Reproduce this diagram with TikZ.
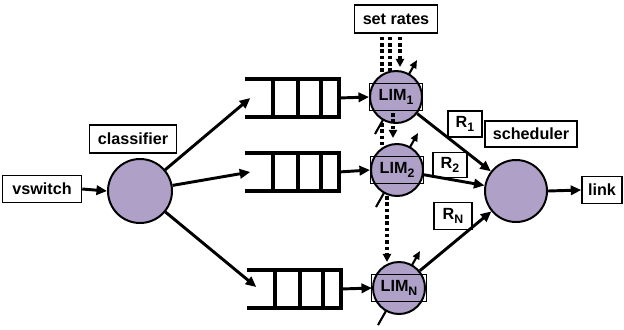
\documentclass[tikz,border=0pt]{standalone}
\usepackage{fontspec}
\setmainfont{Liberation Sans}
\usetikzlibrary{arrows.meta,calc}
\definecolor{lim}{RGB}{174,160,198}
\newcommand{\mysub}[1]{\raisebox{-3.5pt}{\fontsize{10.5}{12}\selectfont #1}}
\begin{document}
\begin{tikzpicture}[x=0.03cm,y=-0.03cm,
  font=\fontsize{13.8}{16}\selectfont\bfseries,
  box/.style={draw,line width=1.3pt,inner sep=0pt,fill=white},
  ball/.style={circle,draw,line width=1.7pt,fill=lim,inner sep=0pt},
  conn/.style={line width=2.5pt,-{Triangle[length=9pt,width=8pt]}},
  qline/.style={line width=3.4pt},
  qbox/.style={inner sep=0pt,minimum width=2.79cm,minimum height=1.14cm},
  dots/.style={line width=3pt,dash pattern=on 3pt off 2.4pt},
  dotarrow/.style={dots,-{Triangle[length=7pt,width=7pt]}},
  knob/.style={line width=1.8pt,-{Triangle[length=7pt,width=6pt]}},
  limrect/.style={draw,line width=1pt,minimum width=1.58cm,minimum height=0.81cm,inner sep=0pt}
]
\useasboundingbox (0,0) rectangle (624,329);

% boxes
\node[box,minimum width=2.37cm,minimum height=0.81cm] (vs) at (42,189) {vswitch};
\node[box,minimum width=2.61cm,minimum height=0.84cm] (cl) at (133,139) {classifier};
\node[box,minimum width=2.49cm,minimum height=0.84cm] (sr) at (396,19) {set rates};
\node[box,minimum width=2.76cm,minimum height=0.78cm] (sch) at (531,134) {scheduler};
\node[box,minimum width=1.2cm,minimum height=0.81cm] (link) at (602,190) {link};

% circles
\node[ball,minimum size=1.92cm] (C) at (140,191) {};
\node[ball,minimum size=1.86cm] (S) at (516,191) {};

% queues
\node[qbox] (q1) at (292,98) {};
\node[qbox] (q2) at (292,172) {};
\node[qbox] (q3) at (294,289) {};
\foreach \q in {q1,q2,q3}{
  \draw[qline] (\q.north west) -- (\q.north east) -- (\q.south east) -- (\q.south west);
  \foreach \f in {0.30,0.56,0.81}
    \draw[qline] ($(\q.north west)!\f!(\q.north east)$) -- ($(\q.south west)!\f!(\q.south east)$);
}

% knob lines behind the limiters
\coordinate (L1c) at (396,97);
\coordinate (L2c) at (397,170);
\coordinate (LNc) at (399,288);
\foreach \c in {L1c,L2c,LNc}
  \draw[knob] ($(\c)+(-21,37)$) -- ($(\c)+(21,-37)$);

% limiters
\node[ball,minimum size=1.56cm] (L1) at (L1c) {};
\node[ball,minimum size=1.56cm] (L2) at (L2c) {};
\node[ball,minimum size=1.56cm] (LN) at (LNc) {};
\node[limrect] (L1r) at (L1c) {LIM\mysub{1}};
\node[limrect] (L2r) at (L2c) {LIM\mysub{2}};
\node[limrect,minimum width=1.65cm] (LNr) at (LNc) {LIM\mysub{N}};

% rate labels
\node[box,fill=none,minimum width=1.02cm,minimum height=0.78cm] (R1) at (465,124) {R\mysub{1}};
\node[box,fill=none,minimum width=1.02cm,minimum height=0.75cm] (R2) at (450,165) {R\mysub{2}};
\node[box,fill=none,minimum width=1.14cm,minimum height=0.81cm] (RN) at (453,216) {R\mysub{N}};

% connectors
\draw[conn] (vs.east) -- (C.west);
\draw[conn] (C) -- ($(q1.west)+(5,0)$);
\draw[conn] (C) -- ($(q2.west)+(5,0)$);
\draw[conn] (C) -- ($(q3.west)+(9,-2)$);
\draw[conn] (q1.east) -- (L1.west);
\draw[conn] (q2.east) -- (L2.west);
\draw[conn] (q3.east) -- (LN.west);
\draw[conn] (L1) -- (S);
\draw[conn] (L2) -- (S);
\draw[conn] (LN) -- (S);
\draw[conn] (S.east) -- (link.west);

% dotted control lines
\draw[dots] ($(sr.south)+(-14,3)$) -- ($(L1c)+(-14,-24)$);
\draw[dots] ($(sr.south)+(-6,3)$) -- ($(L1c)+(-6,-26)$);
\draw[dotarrow] ($(sr.south)+(4,3)$) -- ($(L1c)+(4,-30)$);
\draw[dots] ($(L1c)+(-14,26)$) -- ($(L1c)+(-14,50)$);
\draw[dotarrow] ($(L1c)+(-3,16)$) -- ($(L1c)+(-3,41)$);
\draw[dotarrow] ($(L2c)+(-10,26)$) -- ($(L2c)+(-10,92)$);
\end{tikzpicture}
\end{document}
